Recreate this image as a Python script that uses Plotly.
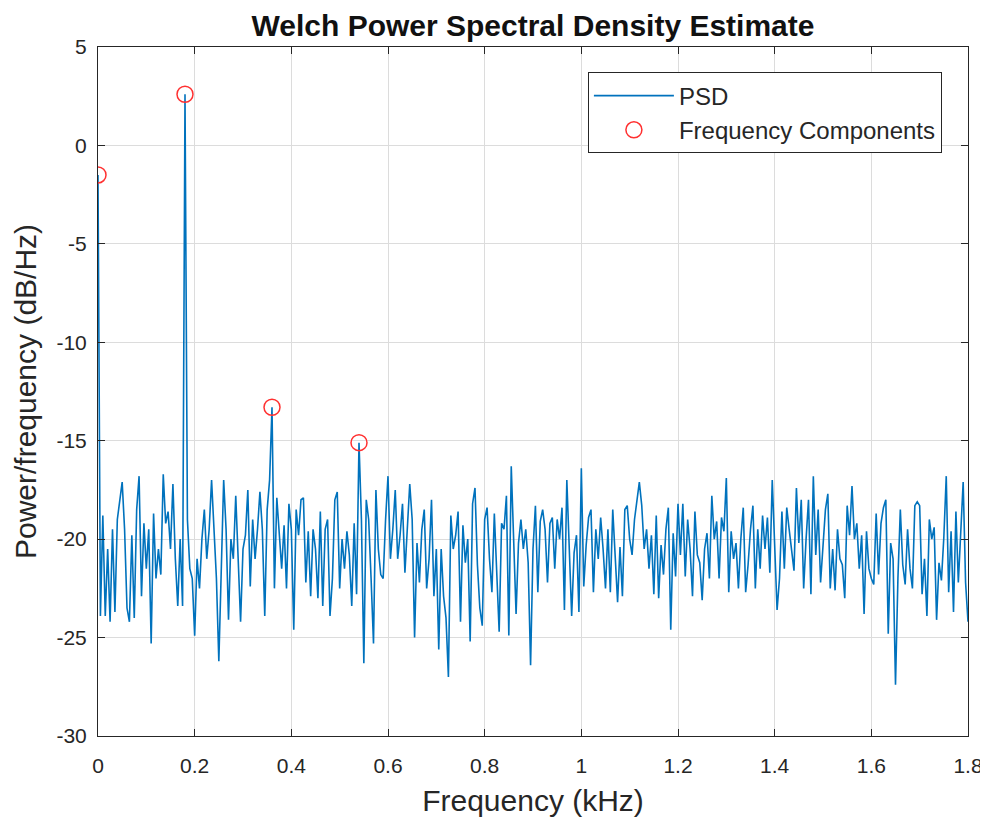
import plotly.graph_objects as go

# Welch PSD estimate in dB/Hz, one value every 5 Hz from 0 to 1.8 kHz
freq_step_khz = 0.005
psd_db = [
    -1.5, -23.9, -18.8, -23.9, -20.5, -24.2, -19.5, -23.7, -19.0, -18.0,
    -17.1, -19.5, -23.5, -24.2, -19.8, -24.0, -18.5, -16.8, -22.9, -19.2,
    -21.5, -19.5, -25.3, -18.7, -22.0, -20.5, -21.8, -16.7, -19.2, -18.6,
    -20.5, -17.2, -21.0, -23.4, -20.0, -23.4, 2.6, -19.0, -21.5, -22.0,
    -24.9, -21.0, -22.5, -20.0, -18.5, -21.0, -19.5, -17.0, -19.8, -22.0,
    -26.2, -21.5, -17.0, -19.5, -24.1, -20.0, -21.0, -17.8, -21.5, -24.2,
    -20.5, -19.8, -17.5, -22.4, -19.0, -21.0, -19.5, -17.6, -19.5, -23.9,
    -18.5, -17.0, -13.3, -22.5, -17.9, -19.8, -21.5, -19.3, -22.5, -18.2,
    -19.5, -24.6, -18.5, -19.8, -18.0, -17.9, -22.2, -19.6, -22.9, -19.5,
    -20.5, -23.0, -18.6, -23.4, -19.5, -19.0, -23.9, -22.0, -18.0, -17.6,
    -22.5, -20.0, -21.5, -19.6, -20.8, -23.4, -19.2, -22.8, -15.1, -19.0,
    -26.3, -18.0, -19.0, -22.0, -25.3, -17.5, -20.5, -21.8, -22.0, -19.0,
    -16.8, -21.0, -19.5, -17.5, -21.0, -19.8, -18.2, -21.7, -19.5, -17.2,
    -19.0, -25.0, -20.2, -22.2, -19.5, -18.5, -22.5, -21.0, -18.0, -22.9,
    -20.5, -25.6, -20.5, -22.9, -24.0, -27.0, -18.8, -20.5, -19.8, -18.6,
    -24.2, -19.3, -21.2, -20.0, -25.2, -18.2, -17.4, -21.3, -23.5, -24.4,
    -19.0, -18.4, -21.0, -22.7, -18.7, -21.5, -24.7, -19.2, -19.5, -17.8,
    -24.9, -16.3, -20.0, -23.8, -20.2, -19.0, -20.5, -19.5, -21.2, -26.4,
    -20.5, -18.3, -22.7, -19.1, -18.5, -19.5, -22.2, -19.2, -18.9, -21.5,
    -19.0, -20.0, -18.4, -23.6, -17.0, -20.0, -23.9, -20.7, -19.8, -23.7,
    -16.4, -22.4, -20.3, -18.9, -18.5, -22.7, -19.5, -21.0, -18.9, -20.5,
    -22.5, -19.5, -22.7, -18.5, -21.0, -23.2, -20.4, -22.9, -18.5, -18.3,
    -20.0, -20.8, -19.0, -18.0, -17.1, -18.3, -20.5, -19.5, -21.5, -19.8,
    -22.8, -18.8, -23.0, -20.3, -21.8, -19.5, -18.4, -24.6, -19.7, -21.9,
    -18.2, -20.8, -18.2, -21.9, -19.0, -20.5, -22.9, -18.6, -20.8, -21.2,
    -23.1, -20.5, -19.7, -22.0, -17.8, -20.0, -19.1, -22.0, -18.9, -19.6,
    -16.9, -22.7, -19.6, -21.0, -20.2, -22.5, -20.0, -18.4, -22.7, -21.3,
    -19.5, -18.3, -22.5, -19.5, -21.5, -18.8, -20.5, -18.9, -21.7, -17.0,
    -20.5, -23.6, -22.0, -18.6, -21.5, -18.4, -19.5, -20.5, -21.6, -17.4,
    -20.2, -18.0, -22.5, -20.0, -18.0, -22.8, -16.8, -20.8, -18.5, -22.2,
    -20.2, -18.5, -17.7, -22.5, -20.5, -22.6, -19.5, -21.0, -21.3, -23.0,
    -18.3, -19.8, -17.3, -20.0, -19.2, -21.5, -19.8, -23.8, -19.6, -21.5,
    -22.0, -22.3, -18.7, -21.8, -19.2, -18.4, -18.0, -24.8, -20.2, -21.0,
    -27.4, -22.0, -18.5, -21.3, -22.3, -19.5, -21.5, -22.5, -18.3, -18.1,
    -18.3, -22.8, -21.0, -23.9, -19.0, -20.0, -19.4, -24.1, -21.2, -22.1,
    -19.9, -16.8, -22.7, -19.6, -23.7, -18.6, -22.2, -19.9, -17.1, -22.2,
    -24.2,
]
freq_khz = [i * freq_step_khz for i in range(len(psd_db))]

# frequency components picked out on the PSD
peak_freq_khz = [0.0, 0.18, 0.36, 0.54]
peak_db = [-1.5, 2.6, -13.3, -15.1]

# tick labels (plain hyphen minus, as in the original)
x_ticks = [0, 0.2, 0.4, 0.6, 0.8, 1.0, 1.2, 1.4, 1.6, 1.8]
x_ticklabels = ['0', '0.2', '0.4', '0.6', '0.8', '1', '1.2', '1.4', '1.6', '1.8']
y_ticks = [-30, -25, -20, -15, -10, -5, 0, 5]
y_ticklabels = ['-30', '-25', '-20', '-15', '-10', '-5', '0', '5']

axis_color = '#262626'
grid_color = '#dcdcdc'
font_family = 'Liberation Sans, Arial, sans-serif'

fig = go.Figure()

fig.add_trace(go.Scatter(
    x=freq_khz,
    y=psd_db,
    mode='lines',
    name='PSD',
    line=dict(color='#0072BD', width=1.6),
))

fig.add_trace(go.Scatter(
    x=peak_freq_khz,
    y=peak_db,
    mode='markers',
    name='Frequency Components',
    marker=dict(symbol='circle-open', size=16, color='#FF3030', line=dict(width=1.5)),
))

# page body has an 8px margin, so the figure is drawn 8px in from the window edge
fig.update_layout(
    width=980,
    height=816,
    margin=dict(l=90, r=20, t=39, b=88),
    paper_bgcolor='white',
    plot_bgcolor='white',
    font=dict(family=font_family, size=21, color=axis_color),
    title=dict(
        text='<b>Welch Power Spectral Density Estimate</b>',
        x=0.5, xref='paper', xanchor='center',
        y=0.978, yref='container', yanchor='middle',
        font=dict(size=30, color='#111111'),
    ),
    legend=dict(
        x=0.97, y=0.963, xanchor='right', yanchor='top',
        bgcolor='white', bordercolor=axis_color, borderwidth=1,
        font=dict(size=24, color=axis_color),
        itemwidth=80,
    ),
    showlegend=True,
)

fig.update_xaxes(
    range=[0, 1.8], tickvals=x_ticks, ticktext=x_ticklabels,
    showgrid=True, gridcolor=grid_color, gridwidth=1,
    zeroline=False, automargin=False,
    showline=True, linecolor=axis_color, linewidth=1, mirror='ticks',
    ticks='inside', ticklen=7, tickcolor=axis_color,
    tickfont=dict(size=21), ticklabelstandoff=11,
    title=dict(text='Frequency (kHz)', font=dict(size=30), standoff=13),
)
fig.update_yaxes(
    range=[-30, 5], tickvals=y_ticks, ticktext=y_ticklabels,
    showgrid=True, gridcolor=grid_color, gridwidth=1,
    zeroline=False, automargin=False,
    showline=True, linecolor=axis_color, linewidth=1, mirror='ticks',
    ticks='inside', ticklen=7, tickcolor=axis_color,
    tickfont=dict(size=21), ticklabelstandoff=6,
    title=dict(text='Power/frequency (dB/Hz)', font=dict(size=30), standoff=10),
)

fig.write_html("out.html")
